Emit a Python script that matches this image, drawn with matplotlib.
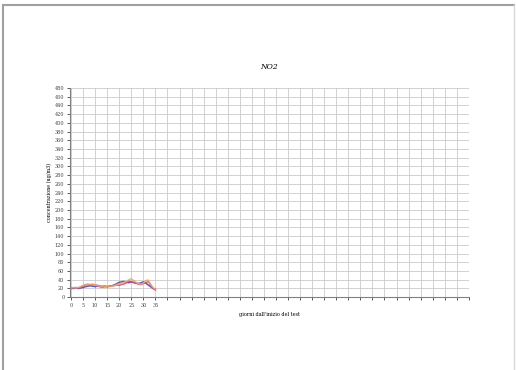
import numpy as np
import matplotlib.pyplot as plt
from matplotlib.lines import Line2D

# daily values
days = list(range(0, 36))
serie_a = [20, 20, 21, 20, 21, 22, 24, 25, 26, 25, 24, 25, 24, 23, 24, 24, 25, 26, 28, 31,
           34, 35, 36, 34, 33, 35, 34, 32, 31, 33, 35, 32, 28, 24, 20, 18]
serie_b = [22, 21, 22, 21, 23, 26, 28, 29, 28, 29, 28, 27, 26, 25, 26, 24, 25, 26, 27, 28,
           27, 29, 30, 33, 37, 35, 33, 32, 30, 29, 31, 33, 36, 28, 20, 16]
serie_c = [21, 22, 21, 22, 24, 27, 29, 30, 29, 30, 28, 26, 25, 24, 25, 25, 24, 25, 26, 29,
           30, 32, 34, 36, 40, 42, 38, 34, 31, 30, 32, 38, 39, 30, 22, 18]
series = [("A", serie_a, "#3b3bbd"), ("B", serie_b, "#d9477a"), ("C", serie_c, "#f0a860")]

x_ticks = list(range(0, 170, 5))
x_labels = [str(t) if t <= 35 else "" for t in x_ticks]
y_ticks = list(range(0, 500, 20))

fig = plt.figure(figsize=(5.16, 3.70), dpi=100)
fig.patch.set_facecolor("white")

# chart area border (left, top, right)
fig.add_artist(Line2D([0.005, 0.005], [0, 0.987], color="#a0a0a0", lw=1.5))
fig.add_artist(Line2D([0.005, 0.997], [0.987, 0.987], color="#a0a0a0", lw=1.5))
fig.add_artist(Line2D([0.997, 0.997], [0, 0.987], color="#d8d8d8", lw=1))

ax = fig.add_axes([0.1357, 0.197, 0.773, 0.565])
for name, vals, col in series:
    ax.plot(days, vals, color=col, lw=1.1, alpha=0.85)

ax.set_xlim(-0.4, 165)
ax.set_ylim(0, 480)
ax.set_xticks(x_ticks)
ax.set_xticklabels(x_labels, fontsize=3.5, family="DejaVu Serif")
ax.set_yticks(y_ticks)
ax.set_yticklabels([str(t) for t in y_ticks], fontsize=3.5, family="DejaVu Serif")
ax.grid(True, color="#cbcbcb", lw=0.6)
ax.set_axisbelow(True)
ax.tick_params(length=2, width=0.6, pad=2, colors="#404040")
for s in ["top", "right"]:
    ax.spines[s].set_visible(False)
for s in ["left", "bottom"]:
    ax.spines[s].set_color("#808080")
    ax.spines[s].set_linewidth(0.8)

ax.set_title("NO2", fontsize=5.5, style="italic", family="DejaVu Serif", pad=14)
ax.set_xlabel("giorni dall'inizio del test", fontsize=3.5, family="DejaVu Serif", labelpad=3)
ax.set_ylabel("concentrazione (ug/m3)", fontsize=3.5, family="DejaVu Serif", labelpad=2)

fig.savefig("out.png", dpi=100)
